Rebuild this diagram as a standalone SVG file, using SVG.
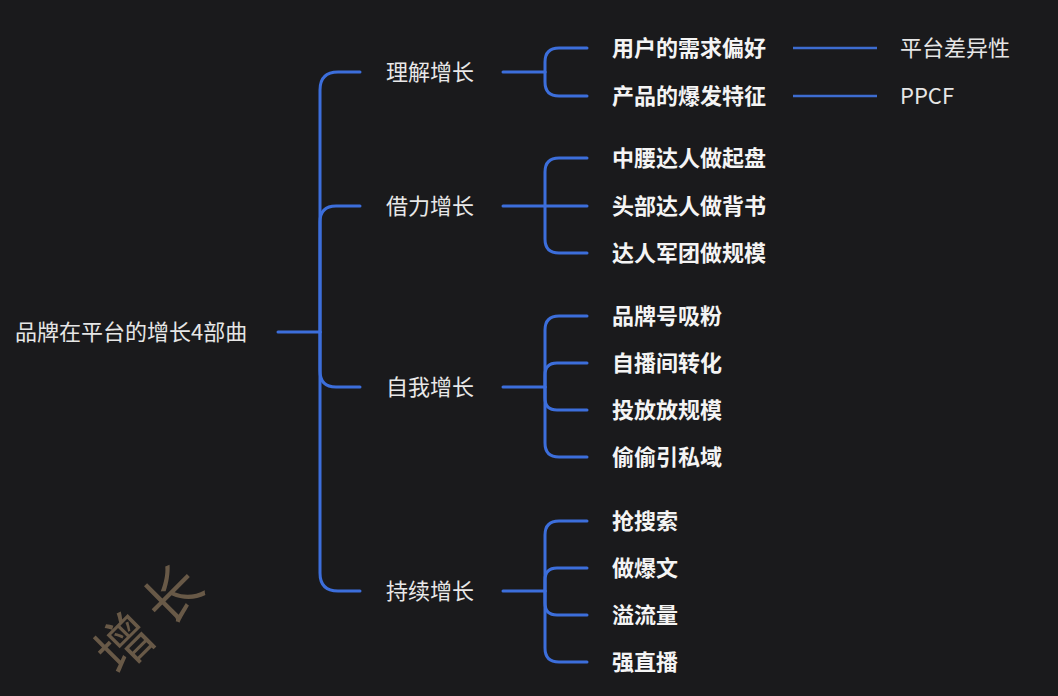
<svg xmlns="http://www.w3.org/2000/svg" width="1058" height="696" viewBox="0 0 1058 696">
<style>
text{font-family:"Noto Sans CJK SC","Noto Sans",sans-serif;font-size:22px;dominant-baseline:central}
.root{fill:#e6e6e6}
.l1{fill:#e8e8e8;text-anchor:middle}
.l2{fill:#f4f4f4;font-weight:bold}
.l3{fill:#e6e6e6}
.c{fill:none;stroke:#3c6edb;stroke-width:3;stroke-linecap:round}
.c3{fill:none;stroke:#3d6cd0;stroke-width:2.5}
.wm{fill:#76644f;font-size:56px;opacity:0.85}
</style>
<rect width="1058" height="696" fill="#1a1a1c"/>
<g id="watermarks">
<text class="wm" transform="translate(150,612) rotate(-45)" text-anchor="middle" letter-spacing="12">增长</text>
</g>
<g id="connectors">
<path class="c" d="M278,332 H320"/>
<path class="c" d="M320,332 V90 Q320,72 338,72 H360"/>
<path class="c" d="M320,332 V222 Q320,206 336,206 H360"/>
<path class="c" d="M320,332 V371 Q320,387 336,387 H360"/>
<path class="c" d="M320,332 V573 Q320,591 338,591 H360"/>
<path class="c" d="M503,72 H545"/>
<path class="c" d="M545,72 V62 Q545,48 559,48 H587"/>
<path class="c" d="M545,72 V82 Q545,96 559,96 H587"/>
<path class="c" d="M503,206 H587"/>
<path class="c" d="M545,206 V172 Q545,158 559,158 H587"/>
<path class="c" d="M545,206 V239 Q545,253 559,253 H587"/>
<path class="c" d="M503,387 H545"/>
<path class="c" d="M545,387 V330 Q545,316 559,316 H587"/>
<path class="c" d="M545,387 V375 Q545,363 557,363 H587"/>
<path class="c" d="M545,387 V398 Q545,410 557,410 H587"/>
<path class="c" d="M545,387 V443 Q545,457 559,457 H587"/>
<path class="c" d="M503,591 H545"/>
<path class="c" d="M545,591 V535 Q545,521 559,521 H587"/>
<path class="c" d="M545,591 V580 Q545,568 557,568 H587"/>
<path class="c" d="M545,591 V603 Q545,615 557,615 H587"/>
<path class="c" d="M545,591 V648 Q545,662 559,662 H587"/>
<path class="c3" d="M793,48 H877"/>
<path class="c3" d="M793,96 H877"/>
</g>
<g id="nodes" transform="translate(0,-2)">
<g id="root"><text class="root" x="15" y="332">品牌在平台的增长4部曲</text></g>
<g id="n-lijie"><text class="l1" x="430" y="72">理解增长</text></g>
<g id="n-jieli"><text class="l1" x="430" y="206">借力增长</text></g>
<g id="n-ziwo"><text class="l1" x="430" y="387">自我增长</text></g>
<g id="n-chixu"><text class="l1" x="430" y="591">持续增长</text></g>
<g id="n-a1"><text class="l2" x="612" y="48">用户的需求偏好</text></g>
<g id="n-a2"><text class="l2" x="612" y="96">产品的爆发特征</text></g>
<g id="n-b1"><text class="l2" x="612" y="158">中腰达人做起盘</text></g>
<g id="n-b2"><text class="l2" x="612" y="206">头部达人做背书</text></g>
<g id="n-b3"><text class="l2" x="612" y="253">达人军团做规模</text></g>
<g id="n-c1"><text class="l2" x="612" y="316">品牌号吸粉</text></g>
<g id="n-c2"><text class="l2" x="612" y="363">自播间转化</text></g>
<g id="n-c3"><text class="l2" x="612" y="410">投放放规模</text></g>
<g id="n-c4"><text class="l2" x="612" y="457">偷偷引私域</text></g>
<g id="n-d1"><text class="l2" x="612" y="521">抢搜索</text></g>
<g id="n-d2"><text class="l2" x="612" y="568">做爆文</text></g>
<g id="n-d3"><text class="l2" x="612" y="615">溢流量</text></g>
<g id="n-d4"><text class="l2" x="612" y="662">强直播</text></g>
<g id="n-e1"><text class="l3" x="900" y="48">平台差异性</text></g>
<g id="n-e2"><text class="l3" x="900" y="96">PPCF</text></g>
</g>
</svg>
